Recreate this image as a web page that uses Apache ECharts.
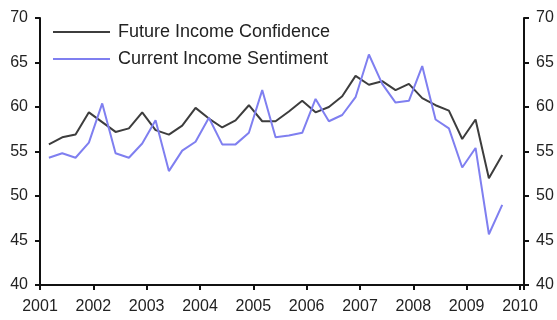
<!DOCTYPE html>
<html>
<head>
<meta charset="utf-8">
<title>Income confidence</title>
<script src="https://cdn.jsdelivr.net/npm/echarts@6/dist/echarts.min.js"></script>
<style>
  html, body { margin: 0; padding: 0; background: #fff; }
  #chart { width: 557px; height: 320px; }
</style>
</head>
<body>
<div id="chart"></div>
<script>
// quarter-end months
const periods = [
  "2001-03", "2001-06", "2001-09", "2001-12",
  "2002-03", "2002-06", "2002-09", "2002-12",
  "2003-03", "2003-06", "2003-09", "2003-12",
  "2004-03", "2004-06", "2004-09", "2004-12",
  "2005-03", "2005-06", "2005-09", "2005-12",
  "2006-03", "2006-06", "2006-09", "2006-12",
  "2007-03", "2007-06", "2007-09", "2007-12",
  "2008-03", "2008-06", "2008-09", "2008-12",
  "2009-03", "2009-06", "2009-09"
];

const futureConfidence = [
  55.8, 56.6, 56.9, 59.4, 58.3, 57.2, 57.6, 59.4, 57.4, 56.9,
  57.9, 59.9, 58.7, 57.7, 58.5, 60.2, 58.4, 58.4, 59.5, 60.7,
  59.4, 60.0, 61.2, 63.5, 62.5, 62.9, 61.9, 62.6, 61.0, 60.2,
  59.6, 56.4, 58.6, 52.0, 54.6
];

const currentSentiment = [
  54.3, 54.8, 54.3, 56.0, 60.4, 54.8, 54.3, 55.9, 58.5, 52.8,
  55.1, 56.1, 58.8, 55.8, 55.8, 57.1, 61.9, 56.6, 56.8, 57.1,
  60.9, 58.4, 59.1, 61.1, 65.9, 62.6, 60.5, 60.7, 64.6, 58.6,
  57.6, 53.2, 55.4, 45.7, 49.0
];

const yTicks = { min: 40, max: 70, step: 5 };
const xYears = { first: 2001, last: 2010 };

// "2001-03" -> 2001 + 2/12 (decimal year on the x axis)
function toYear(p) {
  const parts = p.split("-");
  return Number(parts[0]) + (Number(parts[1]) - 1) / 12;
}

function pairs(vals) {
  return vals.map((v, i) => [toYear(periods[i]), v]);
}

const font = "'Liberation Sans', Arial, sans-serif";
const chart = echarts.init(document.getElementById("chart"));

const yAxisBase = {
  type: "value",
  min: yTicks.min,
  max: yTicks.max,
  interval: yTicks.step,
  splitLine: { show: false },
  axisLine: { show: true, lineStyle: { color: "#111", width: 2 } },
  axisTick: { show: true, length: 5, lineStyle: { color: "#111", width: 2 } },
  axisLabel: { color: "#222", fontSize: 16, fontFamily: font, margin: 12 }
};

chart.setOption({
  animation: false,
  grid: { left: 40, right: 33, top: 18, bottom: 35 },
  legend: {
    orient: "vertical",
    left: 53,
    top: 23,
    padding: 0,
    icon: "rect",
    itemWidth: 57,
    itemHeight: 2,
    itemGap: 9,
    textStyle: { color: "#222", fontSize: 18, fontFamily: font, padding: [0, 0, 0, 3] },
    data: ["Future Income Confidence", "Current Income Sentiment"]
  },
  xAxis: {
    type: "value",
    min: xYears.first,
    max: xYears.last + 0.075,
    interval: 1,
    splitLine: { show: false },
    axisLine: { lineStyle: { color: "#111", width: 2 } },
    axisTick: { length: 5, lineStyle: { color: "#111", width: 2 } },
    axisLabel: {
      color: "#222",
      fontSize: 16,
      fontFamily: font,
      margin: 14,
      formatter: v => (Number.isInteger(v) ? String(v) : "")
    }
  },
  yAxis: [
    Object.assign({}, yAxisBase, { position: "left" }),
    Object.assign({}, yAxisBase, { position: "right" })
  ],
  series: [
    {
      name: "Future Income Confidence",
      type: "line",
      symbol: "none",
      lineStyle: { color: "#3d3d3d", width: 2 },
      itemStyle: { color: "#3d3d3d" },
      data: pairs(futureConfidence)
    },
    {
      name: "Current Income Sentiment",
      type: "line",
      symbol: "none",
      lineStyle: { color: "#7f7ff0", width: 2 },
      itemStyle: { color: "#7f7ff0" },
      data: pairs(currentSentiment)
    }
  ]
});
</script>
</body>
</html>
